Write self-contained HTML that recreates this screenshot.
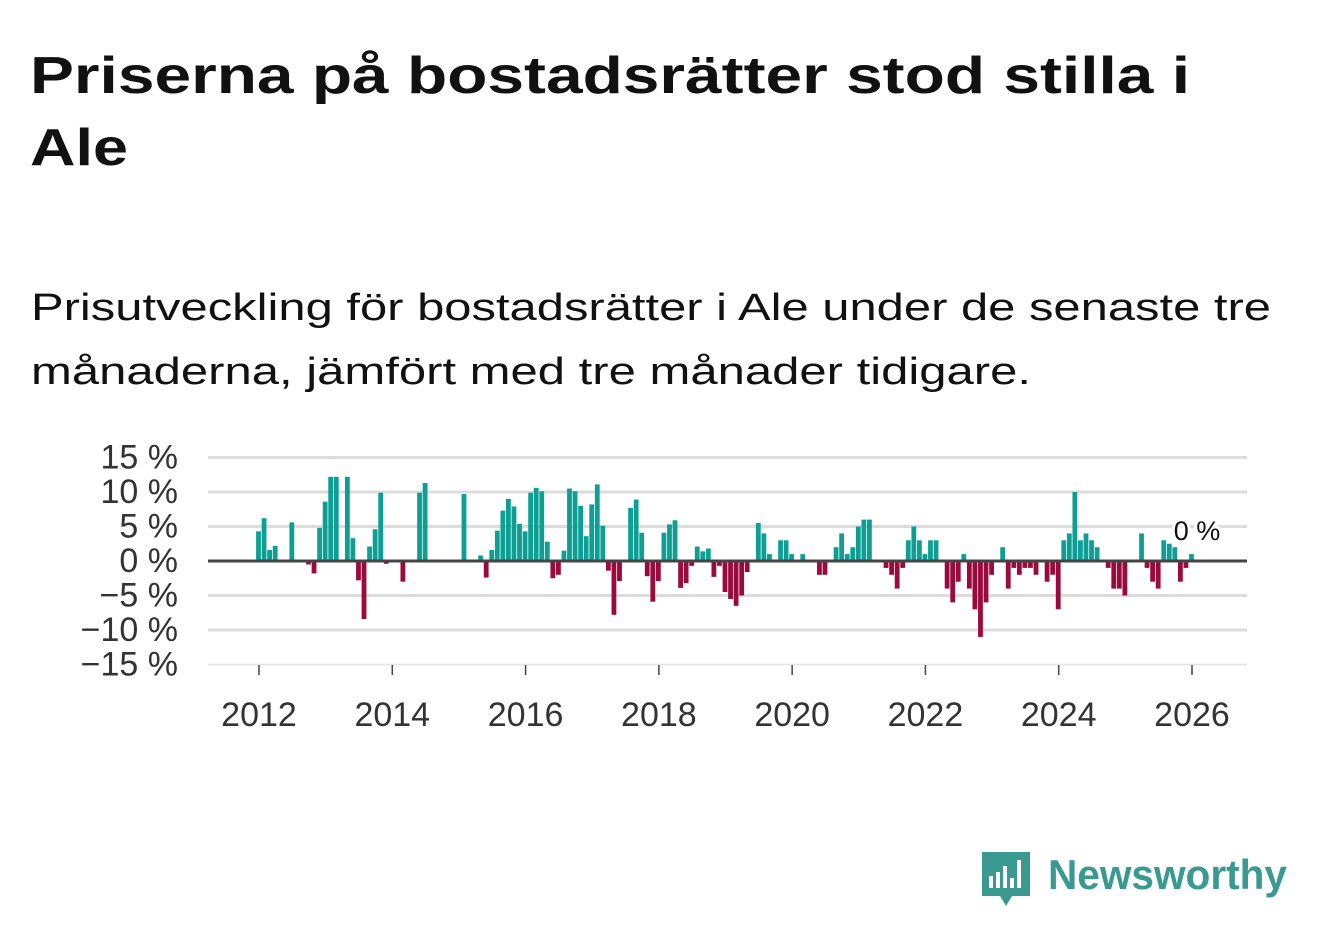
<!DOCTYPE html>
<html><head><meta charset="utf-8"><style>
html,body{margin:0;padding:0;background:#fff;}
svg{display:block;font-family:"Liberation Sans",sans-serif;}
</style></head><body>
<svg id="chart" width="1322" height="939" viewBox="0 0 1322 939">
<text x="30" y="93" font-size="52" font-weight="bold" fill="#111" textLength="1160" lengthAdjust="spacingAndGlyphs">Priserna på bostadsrätter stod stilla i</text>
<text x="30" y="165" font-size="52" font-weight="bold" fill="#111" textLength="98" lengthAdjust="spacingAndGlyphs">Ale</text>
<text x="31" y="320" font-size="38" fill="#111" textLength="1240" lengthAdjust="spacingAndGlyphs">Prisutveckling för bostadsrätter i Ale under de senaste tre</text>
<text x="31" y="384" font-size="38" fill="#111" textLength="1000" lengthAdjust="spacingAndGlyphs">månaderna, jämfört med tre månader tidigare.</text>
<g id="grid"></g>
<g id="bars"></g>
<g id="axes"></g>
<text x="1197" y="540" font-size="27" fill="#111" text-anchor="middle" stroke="#fff" stroke-width="6" paint-order="stroke">0 %</text>
<g>
<path d="M982 852 h48 v44 h-18 l-6 10 l-6 -10 h-18 z" fill="#3a9a92"/>
<rect x="989" y="876" width="4" height="12" fill="#fff"/>
<rect x="996" y="872" width="4" height="16" fill="#fff"/>
<rect x="1003" y="866" width="4" height="22" fill="#fff"/>
<rect x="1010" y="878" width="4" height="10" fill="#fff"/>
<rect x="1017" y="860" width="4" height="28" fill="#fff"/>
<text x="1048" y="889" font-size="42" font-weight="bold" fill="#3a9a92" textLength="239" lengthAdjust="spacingAndGlyphs">Newsworthy</text>
</g>
</svg>
<script>
const startYear = 2012;
const values = [4.3,6.2,1.6,2.2,0,0,5.6,0,0,-0.5,-1.8,4.8,
8.6,12.2,12.2,0,12.2,3.3,-2.8,-8.4,2.1,4.6,9.9,-0.4,
0,0,-3.0,0,0,9.9,11.3,0,0,0,0,0,
0,9.7,0,0,0.8,-2.4,1.6,4.4,7.3,9.0,7.9,5.4,
4.3,9.9,10.6,10.1,2.8,-2.5,-2.0,1.5,10.5,10.1,8.0,3.6,
8.2,11.1,5.1,-1.4,-7.8,-2.9,0,7.7,8.9,4.1,-2.2,-5.9,
-2.9,4.1,5.3,5.9,-3.9,-3.2,-0.7,2.1,1.4,1.8,-2.3,-0.7,
-4.5,-5.5,-6.5,-5.0,-1.6,0,5.5,4.0,1.0,0,3.0,3.0,
1.0,0,1.0,0,0,-2.0,-2.0,0,2.0,4.0,1.0,2.0,
5.0,6.0,6.0,0,0,-1.0,-2.0,-4.0,-1.0,3.0,5.0,3.0,
1.0,3.0,3.0,0,-4.0,-6.0,-3.0,1.0,-4.0,-7.0,-11.0,-6.0,
-2.0,0,2.0,-4.0,-1.0,-2.0,-1.0,-1.0,-2.0,0,-3.0,-2.0,
-7.0,3.0,4.0,10.0,3.0,4.0,3.0,2.0,0,-1.0,-4.0,-4.0,
-5.0,0,0,4.0,-1.0,-3.0,-4.0,3.0,2.5,2.0,-3.0,-1.0,
1.0,0];
const yTicks = [15,10,5,0,-5,-10,-15];
const yTickLabels = ["15 %","10 %","5 %","0 %","−5 %","−10 %","−15 %"];
const xTicks = [2012,2014,2016,2018,2020,2022,2024,2026];

const NS="http://www.w3.org/2000/svg";
const x0=259, pxPerYear=(1192-259)/14;
function xScale(yearFrac){return x0+(yearFrac-2012)*pxPerYear;}
function yScale(v){return 561 - v*6.9;}
function mk(tag,attrs,parent){const e=document.createElementNS(NS,tag);for(const k in attrs)e.setAttribute(k,attrs[k]);parent.appendChild(e);return e;}
const grid=document.getElementById('grid'),bars=document.getElementById('bars'),axes=document.getElementById('axes');
yTicks.forEach((t,i)=>{
  if(t!==0){
    const l=mk('line',{x1:208,x2:1247,y1:yScale(t),y2:yScale(t),stroke:t===-15?'#e4e4e4':'#dcdcdc','stroke-width':t===-15?1.5:3},grid);
    
    
  }
  const tx=mk('text',{x:178,y:yScale(t)+11,'font-size':34,'text-anchor':'end',fill:'#333'},axes);
  tx.textContent=yTickLabels[i];
  
  
});
values.forEach((v,i)=>{
  if(v===0)return;
  const cx=xScale(startYear+i/12)-0.5;
  const r=mk('rect',{x:cx-2.4,width:4.8,y:Math.min(yScale(v),561),height:Math.abs(yScale(v)-561),fill:v>0?'#0d9e94':'#9b0a3c'},bars);
  
  
});
const zl=mk('line',{x1:208,x2:1247,y1:561,y2:561,stroke:'#444','stroke-width':3},axes);


xTicks.forEach(t=>{
  const tk=mk('line',{x1:xScale(t),x2:xScale(t),y1:665,y2:675,stroke:'#444','stroke-width':1.5},axes);
  
  
  const tx=mk('text',{x:xScale(t),y:726,'font-size':34,'text-anchor':'middle',fill:'#333'},axes);
  tx.textContent=String(t);
  
  
});
</script>
</body></html>
